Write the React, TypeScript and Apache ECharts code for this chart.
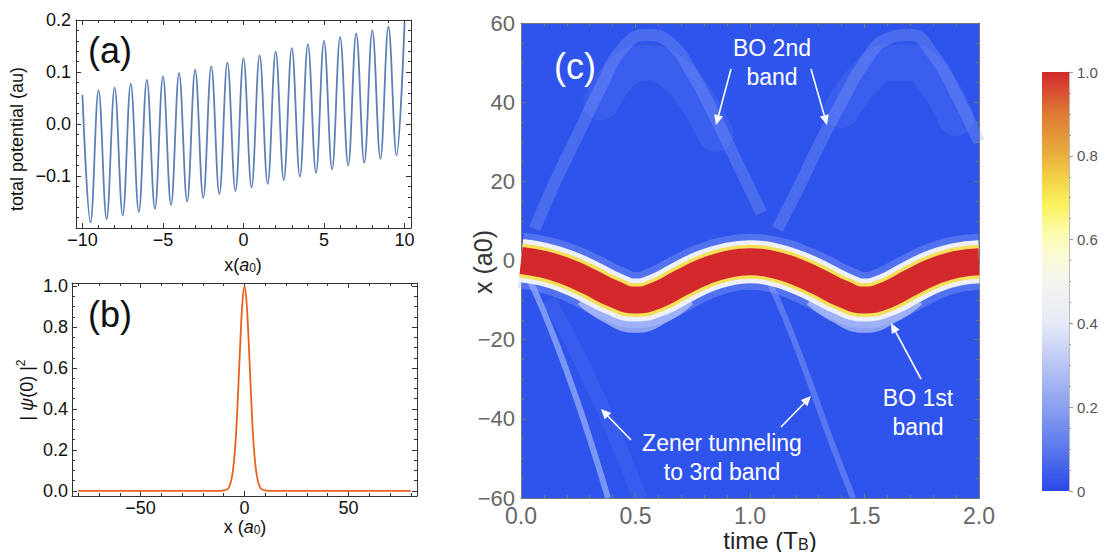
import React, { useEffect, useRef } from "react";
import * as echarts from "echarts";

// ---------- Panel (a): total potential (local maxima / minima)
const potX = [-10, -9.5, -9, -8.5, -8, -7.5, -7, -6.5, -6, -5.5, -5, -4.5, -4, -3.5, -3, -2.5, -2, -1.5, -1, -0.5, 0, 0.5, 1, 1.5, 2, 2.5, 3, 3.5, 4, 4.5, 5, 5.5, 6, 6.5, 7, 7.5, 8, 8.5, 9, 9.5, 10];
const potY = [0.056, -0.189, 0.065, -0.183, 0.07, -0.176, 0.077, -0.169, 0.085, -0.163, 0.091, -0.156, 0.098, -0.149, 0.104, -0.142, 0.111, -0.135, 0.118, -0.129, 0.126, -0.122, 0.132, -0.115, 0.139, -0.108, 0.146, -0.101, 0.153, -0.094, 0.16, -0.087, 0.167, -0.08, 0.174, -0.074, 0.18, -0.067, 0.187, -0.06, 0.195];

// ---------- Panel (b): |psi(0)|^2
const psiX = [-80, -20, -14, -12, -10, -8, -7, -6, -5, -4, -3, -2, -1, 0, 1, 2, 3, 4, 5, 6, 7, 8, 10, 12, 14, 20, 80];
const psiY = [0, 0, 0, 0.0005, 0.002, 0.01, 0.03, 0.07, 0.15, 0.29, 0.5, 0.73, 0.92, 1.0, 0.92, 0.73, 0.5, 0.29, 0.15, 0.07, 0.03, 0.01, 0.002, 0.0005, 0, 0, 0];

// ---------- Panel (c): density map features
const bandT = [0, 0.1, 0.2, 0.3, 0.4, 0.5, 0.6, 0.7, 0.8, 0.9, 1.0, 1.1, 1.2, 1.3, 1.4, 1.5, 1.6, 1.7, 1.8, 1.9, 2.0];
const bandX = [0, -1, -2.8, -5.4, -8.3, -10, -8.6, -5.6, -2.8, -1, -0.3, -1, -2.8, -5.4, -8.3, -10, -8.6, -5.6, -2.8, -1, -0.3];
const fringeT = [0.28, 0.38, 0.5, 0.62, 0.72, null, 1.28, 1.38, 1.5, 1.62, 1.72];
const fringeX = [-9, -13, -15.5, -13, -9, null, -9, -13, -15.5, -13, -9];
const arcAT = [0.06, 0.15, 0.25, 0.35, 0.45, 0.55, 0.65, 0.75, 0.85, 0.95, 1.05];
const arcAX = [8, 20, 32, 44, 54, 57, 55, 47, 36, 24, 12];
const arcBT = [1.12, 1.2, 1.3, 1.4, 1.5, 1.6, 1.7, 1.8, 1.9, 2.0];
const arcBX = [8, 17, 29, 40, 50, 56, 57, 52, 42, 30];
const topAT = [0.35, 0.45, 0.55, 0.65, 0.75, 0.85];
const topAX = [40, 48, 50, 48, 42, 32];
const topBT = [1.4, 1.5, 1.6, 1.7, 1.8, 1.9];
const topBX = [38, 46, 50, 50, 46, 36];
const zener1T = [0.03, 0.1, 0.2, 0.3, 0.38];
const zener1X = [-4, -13, -28, -45, -60];
const zener2T = [1.08, 1.15, 1.25, 1.35, 1.45];
const zener2X = [-5, -14, -29, -45, -60];
const faint1T = [0.12, 0.3, 0.52];
const faint1X = [-10, -30, -60];

// ---------- colour bar
const cbTicks = [0, 0.2, 0.4, 0.6, 0.8, 1.0];
const cbStops: [number, string][] = [
  [0, "#2a48e8"], [0.1, "#5a78ec"], [0.2, "#8aa0f0"], [0.3, "#b7c4f4"], [0.4, "#e6eaf8"],
  [0.5, "#f3f4ee"], [0.56, "#fbfad6"], [0.62, "#fdfbaa"], [0.68, "#fbf35e"], [0.75, "#f2cf46"],
  [0.8, "#e9b03e"], [0.9, "#de7a34"], [1.0, "#d3282e"],
];

const FONT = "'Liberation Sans', Arial, Helvetica, sans-serif";

const pairs = (xs: (number | null)[], ys: (number | null)[]) =>
  xs.map((x, i) => (x === null || ys[i] === null ? ["-", "-"] : [x, ys[i]]));

const fmt = (v: number, d: number) => {
  const s = Math.abs(v) < 1e-9 ? (0).toFixed(d) : v.toFixed(d);
  return s.replace("-", "\u2212");
};

function frameX(grid: number, min: number, max: number, color: string, fontSize: number, d: number, minorSplit: number, extra: any, top: boolean, labelColor: string, margin: number, showEdges: boolean) {
  return {
    type: "value", gridIndex: grid, min, max, position: top ? "top" : "bottom",
    ...extra,
    axisLine: { show: true, onZero: false, lineStyle: { color, width: 1 } },
    axisTick: { show: true, inside: true, length: 5, lineStyle: { color } },
    minorTick: { show: true, splitNumber: minorSplit, length: 3, lineStyle: { color } },
    splitLine: { show: false },
    axisLabel: top ? { show: false } : {
      show: true, fontSize, color: labelColor, fontFamily: FONT, margin,
      showMinLabel: showEdges, showMaxLabel: showEdges,
      formatter: (v: number) => fmt(v, d),
    },
  };
}
function frameY(grid: number, min: number, max: number, color: string, fontSize: number, d: number, minorSplit: number, extra: any, right: boolean, labelColor: string, margin: number, showMin: boolean, showMax: boolean) {
  return {
    type: "value", gridIndex: grid, min, max, position: right ? "right" : "left",
    ...extra,
    axisLine: { show: true, onZero: false, lineStyle: { color, width: 1 } },
    axisTick: { show: true, inside: true, length: 5, lineStyle: { color } },
    minorTick: { show: true, splitNumber: minorSplit, length: 3, lineStyle: { color } },
    splitLine: { show: false },
    axisLabel: right ? { show: false } : {
      show: true, fontSize, color: labelColor, fontFamily: FONT, margin,
      showMinLabel: showMin, showMaxLabel: showMax,
      formatter: (v: number) => fmt(v, d),
    },
  };
}

function arrow(x1: number, y1: number, x2: number, y2: number) {
  const dx = x2 - x1, dy = y2 - y1, L = Math.hypot(dx, dy);
  const ux = dx / L, uy = dy / L, hl = 10, hw = 4.5;
  const bx = x2 - ux * hl, by = y2 - uy * hl;
  return [
    { type: "line", shape: { x1, y1, x2: bx, y2: by }, style: { stroke: "#fff", lineWidth: 1.6 }, z: 100 },
    { type: "polygon", shape: { points: [[x2, y2], [bx - uy * hw, by + ux * hw], [bx + uy * hw, by - ux * hw]] }, style: { fill: "#fff" }, z: 100 },
  ];
}

function whiteText(text: string, x: number, y: number, size: number) {
  return { type: "text", x, y, z: 100, style: { text, fill: "#fff", fontSize: size, fontFamily: FONT, align: "center", verticalAlign: "middle", lineHeight: 29 } };
}

export default function App() {
  const ref = useRef<HTMLDivElement>(null);
  useEffect(() => {
    if (!ref.current) return;
    const chart = echarts.init(ref.current, undefined, { renderer: "svg" });
    const frameAB = "#333";
    const frameC = "#777";
    const cLine = (xs: any[], ys: any[], color: string, width: number, cap = "butt") => ({
      type: "line", xAxisIndex: 2, yAxisIndex: 2, data: pairs(xs, ys), smooth: 0.5,
      symbol: "none", lineStyle: { color, width, cap, join: "round" }, clip: true, silent: true,
    });

    const option: any = {
      animation: false,
      grid: [
        { left: 76, top: 20, width: 335, height: 208 },
        { left: 72, top: 283, width: 345, height: 213 },
        { left: 521, top: 23, width: 458, height: 475, show: true, backgroundColor: "#2f54ec", borderWidth: 0 },
        { left: 1042, top: 72, width: 27, height: 419 },
      ],
      xAxis: [
        frameX(0, -10.4, 10.4, frameAB, 18, 0, 5, {}, false, "#111", 3, false),
        frameX(1, -83, 83, frameAB, 18, 0, 5, { splitNumber: 3 }, false, "#111", 3, false),
        frameX(2, 0, 2, frameC, 23, 1, 5, { interval: 0.5 }, false, "#666", 6, true),
        frameX(0, -10.4, 10.4, frameAB, 18, 0, 5, {}, true, "#111", 3, false),
        frameX(1, -83, 83, frameAB, 18, 0, 5, { splitNumber: 3 }, true, "#111", 3, false),
        frameX(2, 0, 2, frameC, 23, 1, 5, { interval: 0.5 }, true, "#666", 6, true),
        { type: "category", gridIndex: 3, data: [""], show: false },
      ],
      yAxis: [
        frameY(0, -0.2, 0.2, frameAB, 18, 1, 5, { interval: 0.1 }, false, "#111", 5, false, true),
        frameY(1, -0.025, 1.015, frameAB, 18, 1, 4, { splitNumber: 5 }, false, "#111", 4, false, false),
        frameY(2, -60, 60, frameC, 22, 0, 4, { interval: 20 }, false, "#666", 6, true, true),
        frameY(0, -0.2, 0.2, frameAB, 18, 1, 5, { interval: 0.1 }, true, "#111", 5, false, true),
        frameY(1, -0.025, 1.015, frameAB, 18, 1, 4, { splitNumber: 5 }, true, "#111", 4, false, false),
        frameY(2, -60, 60, frameC, 22, 0, 4, { interval: 20 }, true, "#666", 6, true, true),
        {
          type: "value", gridIndex: 3, min: 0, max: 1, interval: 0.2, position: "right",
          axisLine: { show: true, lineStyle: { color: "#bbb" } },
          axisTick: { show: true, inside: false, length: 4, lineStyle: { color: "#999" } },
          minorTick: { show: true, splitNumber: 4, length: 2, lineStyle: { color: "#999" } },
          splitLine: { show: false },
          axisLabel: {
            show: true, fontSize: 15, color: "#555", fontFamily: FONT, margin: 8,
            customValues: cbTicks,
            formatter: (v: number) => (Math.abs(v) < 1e-9 ? "0" : v.toFixed(1)),
          },
        },
      ],
      series: [
        {
          type: "line", xAxisIndex: 0, yAxisIndex: 0, data: pairs(potX, potY), smooth: 0.38,
          symbol: "none", lineStyle: { color: "#5e81b5", width: 1.8 }, clip: true,
        },
        {
          type: "line", xAxisIndex: 1, yAxisIndex: 1, data: pairs(psiX, psiY), smooth: 0.4,
          symbol: "none", lineStyle: { color: "#e8621e", width: 1.8 }, clip: true,
        },
        // faint features
        cLine(topAT, topAX, "rgba(120,150,248,0.16)", 36, "round"),
        cLine(topBT, topBX, "rgba(120,150,248,0.16)", 36, "round"),
        cLine(arcAT, arcAX, "rgba(140,168,250,0.3)", 12),
        cLine(arcBT, arcBX, "rgba(140,168,250,0.3)", 12),
        cLine(faint1T, faint1X, "rgba(110,140,245,0.15)", 14),
        cLine(zener1T, zener1X, "rgba(175,195,252,0.6)", 6),
        cLine(zener2T, zener2X, "rgba(150,175,250,0.4)", 6),
        // main Bloch-oscillation band
        cLine(bandT, bandX, "rgba(150,172,248,0.35)", 56),
        cLine(fringeT, fringeX, "rgba(236,240,252,0.5)", 22),
        cLine(bandT, bandX, "#eef1fb", 43),
        cLine(bandT, bandX, "#f6e05a", 34),
        cLine(bandT, bandX, "#d3282c", 27),
        // colour bar
        {
          type: "bar", xAxisIndex: 6, yAxisIndex: 6, data: [1], barWidth: "100%", silent: true,
          itemStyle: {
            color: new echarts.graphic.LinearGradient(0, 1, 0, 0, cbStops.map(([offset, color]) => ({ offset, color }))),
          },
        },
      ],
      graphic: [
        { type: "text", x: 110, y: 50, style: { text: "(a)", fontSize: 36, fontFamily: FONT, fill: "#111", align: "center", verticalAlign: "middle" } },
        { type: "text", x: 110, y: 314, style: { text: "(b)", fontSize: 36, fontFamily: FONT, fill: "#111", align: "center", verticalAlign: "middle" } },
        { type: "text", x: 17, y: 139, rotation: Math.PI / 2, style: { text: "total potential (au)", fontSize: 18, fontFamily: FONT, fill: "#111", align: "center", verticalAlign: "middle" } },
        {
          type: "text", x: 243, y: 265,
          style: {
            text: "x({i|a}{sub|0})", fontSize: 18, fontFamily: FONT, fill: "#111", align: "center", verticalAlign: "middle",
            rich: { i: { fontStyle: "italic", fontSize: 18, fontFamily: FONT, fill: "#111" }, sub: { fontSize: 12, fontFamily: FONT, fill: "#111", verticalAlign: "bottom", lineHeight: 14 } },
          },
        },
        {
          type: "text", x: 27, y: 390, rotation: Math.PI / 2,
          style: {
            text: "| {i|ψ}(0) |{sup|2}", fontSize: 18, fontFamily: FONT, fill: "#111", align: "center", verticalAlign: "middle",
            rich: { i: { fontStyle: "italic", fontSize: 18, fontFamily: FONT, fill: "#111" }, sup: { fontSize: 12, fontFamily: FONT, fill: "#111", verticalAlign: "top", lineHeight: 24 } },
          },
        },
        {
          type: "text", x: 245, y: 527,
          style: {
            text: "x ({i|a}{sub|0})", fontSize: 18, fontFamily: FONT, fill: "#111", align: "center", verticalAlign: "middle",
            rich: { i: { fontStyle: "italic", fontSize: 18, fontFamily: FONT, fill: "#111" }, sub: { fontSize: 12, fontFamily: FONT, fill: "#111", verticalAlign: "bottom", lineHeight: 14 } },
          },
        },
        { type: "text", x: 483, y: 262, rotation: Math.PI / 2, style: { text: "x (a0)", fontSize: 25, fontFamily: FONT, fill: "#333", align: "center", verticalAlign: "middle" } },
        {
          type: "text", x: 770, y: 540,
          style: {
            text: "time (T{sub|B})", fontSize: 24, fontFamily: FONT, fill: "#222", align: "center", verticalAlign: "middle",
            rich: { sub: { fontSize: 16, fontFamily: FONT, fill: "#222", verticalAlign: "bottom", lineHeight: 18 } },
          },
        },
        { type: "text", x: 575, y: 66, z: 100, style: { text: "(c)", fontSize: 36, fontFamily: FONT, fill: "#fff", align: "center", verticalAlign: "middle" } },
        whiteText("BO 2nd\nband", 772, 62, 23),
        whiteText("BO 1st\nband", 918, 412, 23),
        whiteText("Zener tunneling\nto 3rd band", 722, 457, 23),
        ...arrow(731, 69, 716, 125),
        ...arrow(811, 69, 827, 125),
        ...arrow(921, 379, 891, 323),
        ...arrow(631, 440, 601, 409),
        ...arrow(781, 427, 811, 396),
      ],
    };
    chart.setOption(option);
    return () => chart.dispose();
  }, []);
  return <div ref={ref} style={{ position: "absolute", left: 0, top: 0, width: 1105, height: 552, background: "#fff" }} />;
}
